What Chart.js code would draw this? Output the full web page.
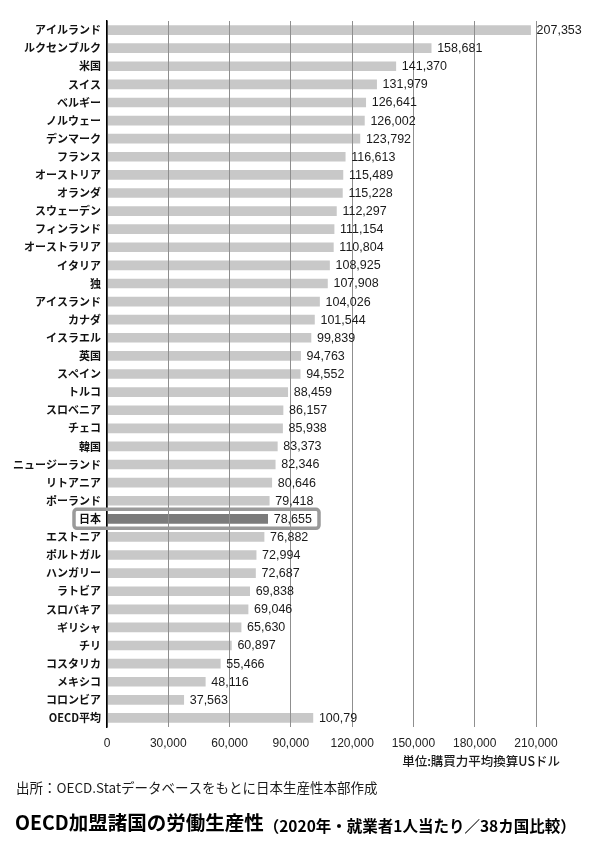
<!DOCTYPE html>
<html>
<head>
<meta charset="utf-8">
<script src="https://cdn.jsdelivr.net/npm/chart.js@4"></script>
<style>
  html, body { margin: 0; padding: 0; background: #fff; }
  #wrap { position: relative; width: 600px; height: 848px; }
</style>
</head>
<body>
<div id="wrap"><canvas id="myChart"></canvas></div>
<script>
const countries = ['アイルランド', 'ルクセンブルク', '米国', 'スイス', 'ベルギー', 'ノルウェー', 'デンマーク',
  'フランス', 'オーストリア', 'オランダ', 'スウェーデン', 'フィンランド', 'オーストラリア', 'イタリア', '独',
  'アイスランド', 'カナダ', 'イスラエル', '英国', 'スペイン', 'トルコ', 'スロベニア', 'チェコ', '韓国',
  'ニュージーランド', 'リトアニア', 'ポーランド', '日本', 'エストニア', 'ポルトガル', 'ハンガリー', 'ラトビア',
  'スロバキア', 'ギリシャ', 'チリ', 'コスタリカ', 'メキシコ', 'コロンビア', 'OECD平均'];
const productivity = [207353, 158681, 141370, 131979, 126641, 126002, 123792, 116613, 115489, 115228,
  112297, 111154, 110804, 108925, 107908, 104026, 101544, 99839, 94763, 94552, 88459, 86157, 85938,
  83373, 82346, 80646, 79418, 78655, 76882, 72994, 72687, 69838, 69046, 65630, 60897, 55466, 48116,
  37563, 100790];
// value text as printed in the source (OECD average is printed truncated)
const valueLabels = productivity.map((v, i) => i === productivity.length - 1 ? '100,79' : v.toLocaleString('en-US'));
const xTicks = [0, 30000, 60000, 90000, 120000, 150000, 180000, 210000];
const highlight = '日本';

const unitText = '単位:購買力平均換算USドル';
const sourceText = '出所：OECD.Statデータベースをもとに日本生産性本部作成';
const titleMain = 'OECD加盟諸国の労働生産性';
const titleSub = '（2020年・就業者1人当たり／38カ国比較）';

const JP = '"Noto Sans CJK JP", "Noto Sans", sans-serif';
const NUM = '"Liberation Sans", Arial, sans-serif';

const barColors = countries.map(c => c === highlight ? '#7b7b7b' : '#c8c8c8');

// Japan outline box
const highlightBox = {
  id: 'highlightBox',
  afterDraw(chart) {
    const { ctx, scales } = chart;
    const i = countries.indexOf(highlight);
    const y = scales.y.getPixelForValue(i);
    const x0 = 74, x1 = 319;
    ctx.save();
    ctx.strokeStyle = '#9a9a9a';
    ctx.lineWidth = 3.5;
    ctx.beginPath();
    ctx.roundRect(x0, y - 9.5, x1 - x0, 19, 3);
    ctx.stroke();
    ctx.restore();
  }
};

// value labels at bar ends + footer texts
const extraText = {
  id: 'extraText',
  afterDraw(chart) {
    const { ctx, scales } = chart;
    ctx.save();
    ctx.fillStyle = '#1a1a1a';
    ctx.font = '12.5px ' + NUM;
    ctx.textBaseline = 'middle';
    ctx.textAlign = 'left';
    productivity.forEach((v, i) => {
      ctx.fillText(valueLabels[i], scales.x.getPixelForValue(v) + 6, scales.y.getPixelForValue(i) + 0.5);
    });

    ctx.textAlign = 'right';
    ctx.font = '500 12.5px ' + JP;
    ctx.fillText(unitText, 560, 761);

    ctx.textAlign = 'left';
    ctx.font = '13.5px ' + JP;
    ctx.fillText(sourceText, 16, 788);

    ctx.fillStyle = '#000';
    ctx.font = 'bold 19.5px ' + JP;
    ctx.fillText(titleMain, 15, 823);
    const w = ctx.measureText(titleMain).width;
    ctx.font = 'bold 15.5px ' + JP;
    ctx.fillText(titleSub, 15 + w, 826);
    ctx.restore();
  }
};

new Chart(document.getElementById('myChart'), {
  type: 'bar',
  data: {
    labels: countries,
    datasets: [{
      data: productivity,
      backgroundColor: barColors,
      barThickness: 9
    }]
  },
  options: {
    indexAxis: 'y',
    responsive: true,
    maintainAspectRatio: false,
    animation: false,
    layout: { padding: { top: 21, right: 64, left: 0, bottom: 0 } },
    plugins: { legend: { display: false }, tooltip: { enabled: false } },
    scales: {
      x: {
        min: 0,
        max: 210000,
        afterBuildTicks(scale) { scale.ticks = xTicks.map(v => ({ value: v })); },
        afterFit(scale) { scale.height = 121; },
        grid: { color: '#8f8f8f', lineWidth: 1, drawTicks: false, z: 1 },
        border: { display: false },
        ticks: {
          padding: 9,
          color: '#222',
          font: { family: NUM, size: 12 },
          callback: v => v.toLocaleString('en-US')
        }
      },
      y: {
        afterFit(scale) { scale.width = 107; },
        grid: { display: false, drawTicks: false },
        border: { display: true, color: '#000', width: 1.5, z: 2 },
        ticks: {
          padding: 6,
          color: '#111',
          autoSkip: false,
          font: { family: JP, size: 11, weight: 'bold' }
        }
      }
    }
  },
  plugins: [highlightBox, extraText]
});
</script>
</body>
</html>
